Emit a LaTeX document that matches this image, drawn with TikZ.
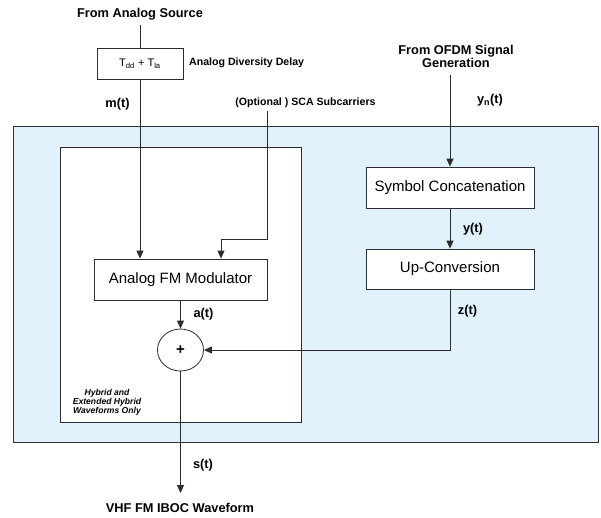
\documentclass[tikz,border=0pt]{standalone}
\usepackage{fontspec}
\setmainfont{Liberation Sans}
\usetikzlibrary{arrows.meta,shapes.geometric}
\definecolor{panelblue}{RGB}{225,242,253}
\definecolor{linegray}{RGB}{45,45,45}
\begin{document}
\begin{tikzpicture}[x=1pt,y=-1pt,
  arr/.style={draw=linegray,line width=0.9pt,-{Triangle[length=8pt,width=7pt]}},
  ln/.style={draw=linegray,line width=0.9pt},
  blk/.style={draw=linegray,line width=0.8pt,fill=white,rectangle,inner sep=0pt,
    font=\fontsize{15}{18}\selectfont},
  lbl/.style={font=\fontsize{12.8}{14}\selectfont\bfseries,inner sep=0pt},
  slbl/.style={font=\fontsize{10.6}{12}\selectfont\bfseries,inner sep=0pt}]
\useasboundingbox (0,0) rectangle (601,517);
% panels
\path[draw=linegray,line width=1pt,fill=panelblue] (13.5,126) rectangle (598,442.5);
\path[draw=linegray,line width=0.9pt,fill=white] (60,147) rectangle (301.5,422);
% blocks
\node[blk,minimum width=86pt,minimum height=31pt,font=\fontsize{11}{13}\selectfont] (delay) at (140,63.5)
  {T\textsubscript{dd} + T\textsubscript{la}};
\node[blk,minimum width=173pt,minimum height=41pt] (fm) at (180.5,279.5) {Analog FM Modulator};
\node[blk,minimum width=168pt,minimum height=41pt] (sym) at (450,187.5) {Symbol Concatenation};
\node[blk,minimum width=168pt,minimum height=40pt] (up) at (450,269) {Up-Conversion};
\node[draw=linegray,line width=0.8pt,fill=white,ellipse,minimum width=46pt,minimum height=42pt,
  inner sep=0pt,font=\fontsize{15}{18}\selectfont\bfseries] (sum) at (180.5,350) {+};
% free ends
\coordinate (src) at (140,25);
\coordinate (sca) at (267,111);
\coordinate (scabend) at (221,239);
\coordinate (ofdm) at (450,75);
\coordinate (out) at (180.5,493);
% connectors
\draw[ln] (src) -- (delay.north);
\draw[arr] (delay.south) -- (delay.south |- fm.north);
\draw[ln] (sca) |- (scabend);
\draw[arr] (scabend) -- (scabend |- fm.north);
\draw[arr] (fm.south) -- (sum.north);
\draw[arr] (ofdm) -- (sym.north);
\draw[arr] (sym.south) -- (up.north);
\draw[arr] (up.south) |- (sum.east);
\draw[arr] (sum.south) -- (out);
% labels
\node[lbl] (lsrc) at (140,14) {From Analog Source};
\node[slbl,anchor=west] (ldelay) at (189,63) {Analog Diversity Delay};
\node[lbl] (lm) at (117.5,104) {m(t)};
\node[slbl] (lsca) at (305.5,103) {(Optional ) SCA Subcarriers};
\node[lbl,align=center,font=\fontsize{12.8}{13.5}\selectfont\bfseries] (lofdm) at (456,56.5) {From OFDM Signal\\Generation};
\node[lbl] (lyn) at (490,100) {y\textsubscript{n}(t)};
\node[lbl] (ly) at (473,229) {y(t)};
\node[lbl] (lz) at (467.5,311) {z(t)};
\node[lbl] (la) at (203.5,314) {a(t)};
\node[lbl] (ls) at (203,465) {s(t)};
\node[lbl] (lout) at (180,508) {VHF FM IBOC Waveform};
\node[align=center,inner sep=0pt,font=\fontsize{8.6}{9}\selectfont\bfseries\itshape] (lhyb) at (107,402)
  {Hybrid and\\Extended Hybrid\\Waveforms Only};
\end{tikzpicture}
\end{document}
